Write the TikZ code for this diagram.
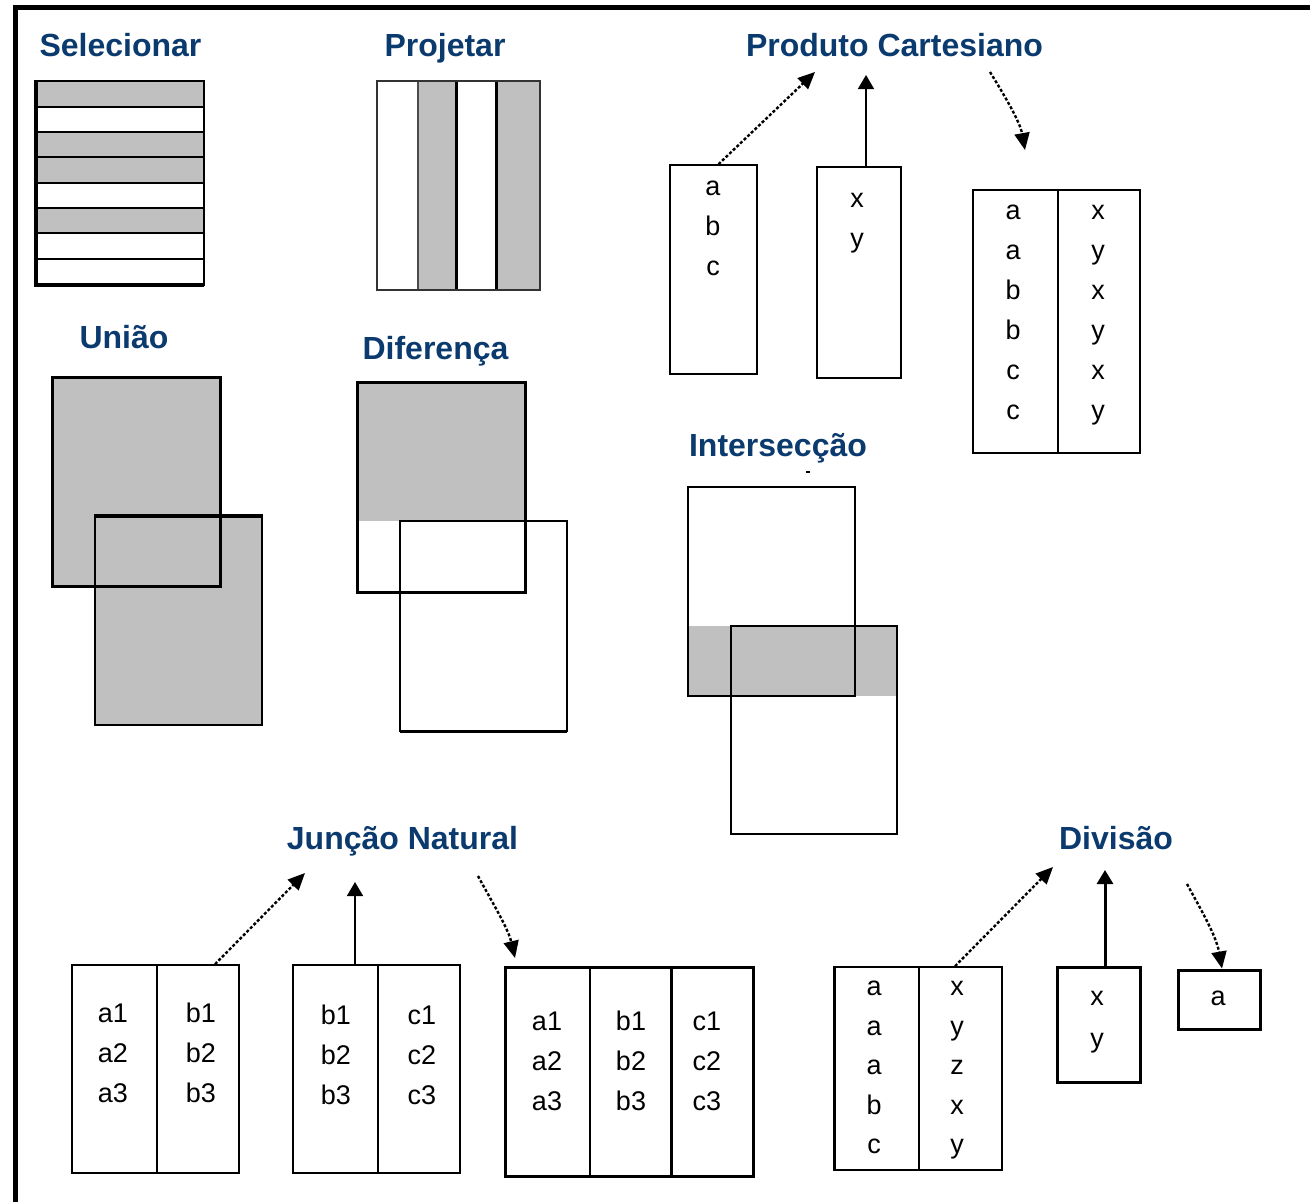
\documentclass[tikz,border=0pt]{standalone}
\usepackage{fontspec}
\setmainfont{Liberation Sans}
\usetikzlibrary{arrows.meta}
\definecolor{titleblue}{HTML}{0B3A6E}
\definecolor{cellgray}{HTML}{C0C0C0}
\tikzset{
  title/.style={font=\fontsize{32}{36}\selectfont\bfseries, text=titleblue, anchor=base},
  cell/.style={font=\fontsize{27}{30}\selectfont, inner sep=0pt, text height=15pt, text depth=0pt},
  box/.style={draw, line width=1.6pt, inner sep=0pt},
  thickbox/.style={draw, line width=3pt, inner sep=0pt},
  dotarrow/.style={line width=2.4pt, dash pattern=on 3pt off 2pt, -{Triangle[length=17pt,width=15pt]}},
  solidarrow/.style={line width=1.6pt, -{Triangle[length=14pt,width=16pt]}},
}
\begin{document}
\begin{tikzpicture}[x=1pt,y=-1pt]
\useasboundingbox (0,0) rectangle (1310,1202);
% frame
\draw[line width=5pt] (15,1202) -- (15,7.5) -- (1310,7.5);

% Selecionar
\node[title] (tsel) at (120.5,56.5) {Selecionar};
\fill[cellgray] (35,81) rectangle (204,107);
\fill[cellgray] (35,132) rectangle (204,183);
\fill[cellgray] (35,208) rectangle (204,233);
\draw[line width=2pt] (35,107) -- (204,107);
\draw[line width=2pt] (35,132) -- (204,132);
\draw[line width=2pt] (35,157) -- (204,157);
\draw[line width=2pt] (35,183) -- (204,183);
\draw[line width=2pt] (35,208) -- (204,208);
\draw[line width=2pt] (35,233) -- (204,233);
\draw[line width=2pt] (35,259) -- (204,259);
\draw[line width=2pt] (35,81) rectangle (204,285);
\draw[line width=3.5pt] (36,81) -- (36,285) -- (204,285);

% Projetar
\node[title] (tproj) at (445,56.5) {Projetar};
\fill[cellgray] (418,81) rectangle (456,290);
\fill[cellgray] (496,81) rectangle (540,290);
\draw[line width=1.5pt, black!70] (418,81) -- (418,290);
\draw[line width=3pt] (456,81) -- (456,290);
\draw[line width=3pt] (496,81) -- (496,290);
\draw[line width=1.6pt, black!80] (377,81) rectangle (540,290);

% Produto Cartesiano
\node[title] (tprod) at (894.5,56.5) {Produto Cartesiano};
\node[box, minimum width=87pt, minimum height=209pt] (pcA) at (713.5,269.5) {};
\node[box, line width=2.5pt, minimum width=84pt, minimum height=211pt] (pcB) at (859,272.5) {};
\node[box, minimum width=167pt, minimum height=263pt] (pcR) at (1056.5,321.5) {};
\draw[line width=1.6pt] (1058,190) -- (1058,453);
\node[cell] (pca1) at (713,188) {a};
\node[cell] (pca2) at (713,228) {b};
\node[cell] (pca3) at (713,268) {c};
\node[cell] (pcb1) at (857,200) {x};
\node[cell] (pcb2) at (857,240) {y};
\foreach \t [count=\i from 0] in {a,a,b,b,c,c}
  \node[cell] (pcl\i) at (1013,212+40*\i) {\t};
\foreach \t [count=\i from 0] in {x,y,x,y,x,y}
  \node[cell] (pcr\i) at (1098,212+40*\i) {\t};
\coordinate (pcT1) at (815,72);
\coordinate (pcT2) at (866,75);
\coordinate (pcS3) at (990,72);
\coordinate (pcT3) at (1025,150);
\draw[dotarrow] ([xshift=5pt]pcA.north) -- (pcT1);
\draw[solidarrow] ([xshift=7pt]pcB.north) -- (pcT2);
\draw[dotarrow] (pcS3) .. controls (1006,98) and (1020,122) .. (pcT3);

% Uniao
\node[title] (tuni) at (124,348.5) {União};
\fill[cellgray] (52,377) rectangle (220,586);
\fill[cellgray] (95,515) rectangle (262,725);
\draw[line width=3pt] (52,377) rectangle (220,586);
\draw[line width=2pt] (95,515) rectangle (262,725);
\draw[line width=3pt] (95,516) -- (262,516);

% Diferenca
\node[title] (tdif) at (435.5,359.5) {Diferença};
\fill[cellgray] (357,382) rectangle (525,521);
\draw[line width=3pt] (357,382) rectangle (525,592);
\draw[line width=2pt] (400,521) rectangle (567,731);
\draw[line width=3pt] (400,731) -- (567,731);

% Interseccao
\node[title] (tint) at (778,456.5) {Intersecção};
\draw[line width=1.5pt] (806,472) -- (810,472);
\fill[cellgray] (688,626) rectangle (897,696);
\draw[line width=2pt] (688,487) rectangle (855,696);
\draw[line width=2pt] (731,626) rectangle (897,834);

% Juncao Natural
\node[title] (tjun) at (402.5,849.5) {Junção Natural};
\node[box, minimum width=167pt, minimum height=208pt] (jnA) at (155.5,1069) {};
\node[box, minimum width=167pt, minimum height=208pt] (jnB) at (376.5,1069) {};
\node[thickbox, minimum width=248pt, minimum height=209pt] (jnR) at (629,1071.5) {};
\draw[line width=1.6pt] (157,965) -- (157,1173);
\draw[line width=1.6pt] (378,965) -- (378,1173);
\draw[line width=1.6pt] (590,967) -- (590,1176);
\draw[line width=3pt] (671,967) -- (671,1176);
\foreach \t [count=\i from 0] in {a1,a2,a3}
  \node[cell] (jna\i) at (113,1015+40*\i) {\t};
\foreach \t [count=\i from 0] in {b1,b2,b3}
  \node[cell] (jnb\i) at (201,1015+40*\i) {\t};
\foreach \t [count=\i from 0] in {b1,b2,b3}
  \node[cell] (jnc\i) at (336,1017+40*\i) {\t};
\foreach \t [count=\i from 0] in {c1,c2,c3}
  \node[cell] (jnd\i) at (422,1017+40*\i) {\t};
\foreach \t [count=\i from 0] in {a1,a2,a3}
  \node[cell] (jnr\i) at (547,1023+40*\i) {\t};
\foreach \t [count=\i from 0] in {b1,b2,b3}
  \node[cell] (jns\i) at (631,1023+40*\i) {\t};
\foreach \t [count=\i from 0] in {c1,c2,c3}
  \node[cell] (jnt\i) at (707,1023+40*\i) {\t};
\coordinate (jnT1) at (305,873);
\coordinate (jnT2) at (355,882);
\coordinate (jnS3) at (478,876);
\coordinate (jnT3) at (515,958);
\draw[dotarrow] ([xshift=59.5pt]jnA.north) -- (jnT1);
\draw[solidarrow] ([xshift=-21.5pt]jnB.north) -- (jnT2);
\draw[dotarrow] (jnS3) .. controls (492,902) and (508,928) .. (jnT3);

% Divisao
\node[title] (tdiv) at (1116,849.5) {Divisão};
\node[box, minimum width=168pt, minimum height=203pt] (dvA) at (918,1068.5) {};
\draw[line width=3pt] (834,967) -- (834,1170);
\draw[line width=1.6pt] (919,967) -- (919,1170);
\node[thickbox, minimum width=83pt, minimum height=115pt] (dvB) at (1098.5,1024.5) {};
\node[thickbox, minimum width=82pt, minimum height=59pt] (dvC) at (1219,999.5) {};
\foreach \t [count=\i from 0] in {a,a,a,b,c}
  \node[cell] (dvl\i) at (874,988+39.5*\i) {\t};
\foreach \t [count=\i from 0] in {x,y,z,x,y}
  \node[cell] (dvr\i) at (957,988+39.5*\i) {\t};
\node[cell] (dvb1) at (1097,998) {x};
\node[cell] (dvb2) at (1097,1040) {y};
\node[cell] (dvc1) at (1218,998) {a};
\coordinate (dvT1) at (1053,867);
\coordinate (dvT2) at (1105,870);
\coordinate (dvS3) at (1187,884);
\draw[dotarrow] ([xshift=37pt]dvA.north) -- (dvT1);
\draw[solidarrow, line width=3pt] ([xshift=6.5pt]dvB.north) -- (dvT2);
\draw[dotarrow] (dvS3) .. controls (1200,908) and (1216,935) .. ([xshift=3pt]dvC.north);
\end{tikzpicture}
\end{document}
